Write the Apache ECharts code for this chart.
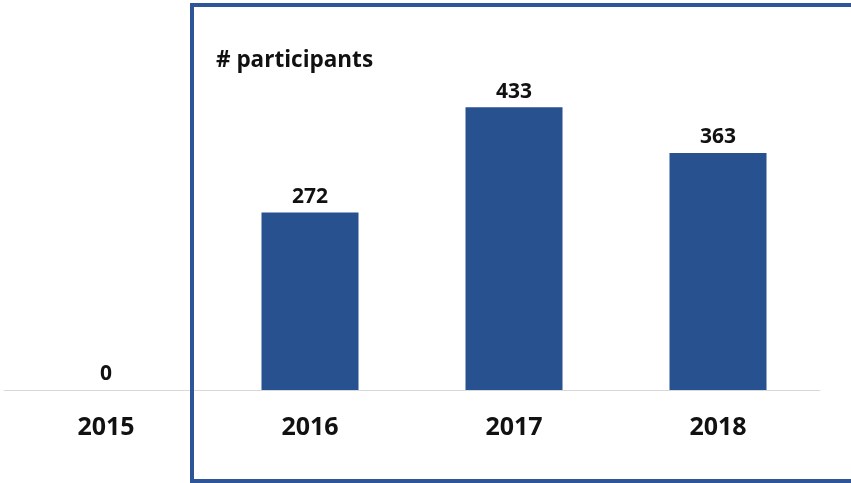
<!DOCTYPE html>
<html>
<head>
<meta charset="utf-8">
<script src="https://cdn.jsdelivr.net/npm/echarts@6/dist/echarts.min.js"></script>
<style>
  html, body { margin: 0; padding: 0; background: #ffffff; }
  #chart { width: 851px; height: 483px; }
</style>
</head>
<body>
<div id="chart"></div>
<script>
// Yearly participant counts
const years = ['2015', '2016', '2017', '2018'];
const participants = [0, 272, 433, 363];
const chartTitle = '# participants';

const FONT = '"Open Sans", "Noto Sans", sans-serif';
const BAR_BLUE = '#27518f';
const FRAME_BLUE = '#2e5597';

const chart = echarts.init(document.getElementById('chart'), null, { renderer: 'canvas' });

chart.setOption({
  animation: false,
  backgroundColor: '#ffffff',
  title: {
    text: chartTitle,
    left: 216,
    top: 49,
    padding: 0,
    textStyle: { fontFamily: FONT, fontSize: 22.5, fontWeight: 'bold', color: '#111111' }
  },
  grid: { left: 4, right: 31, top: 63.5, bottom: 93, containLabel: false },
  xAxis: {
    type: 'category',
    data: years,
    axisLine: { show: true, lineStyle: { color: '#d9d9d9', width: 1 } },
    axisTick: { show: false },
    axisLabel: {
      margin: 25,
      fontFamily: FONT,
      fontSize: 25,
      fontWeight: 'bold',
      color: '#111111'
    }
  },
  yAxis: {
    type: 'value',
    min: 0,
    max: 500,
    show: false,
    splitLine: { show: false }
  },
  series: [{
    type: 'bar',
    data: participants,
    barWidth: 97,
    itemStyle: { color: BAR_BLUE },
    label: {
      show: true,
      position: 'top',
      distance: 5,
      fontFamily: FONT,
      fontSize: 21,
      fontWeight: 'bold',
      color: '#111111'
    }
  }],
  graphic: [{
    type: 'rect',
    silent: true,
    z: 100,
    shape: { x: 192, y: 5, width: 662, height: 476 },
    style: { fill: 'none', stroke: FRAME_BLUE, lineWidth: 4 }
  }]
});
</script>
</body>
</html>
